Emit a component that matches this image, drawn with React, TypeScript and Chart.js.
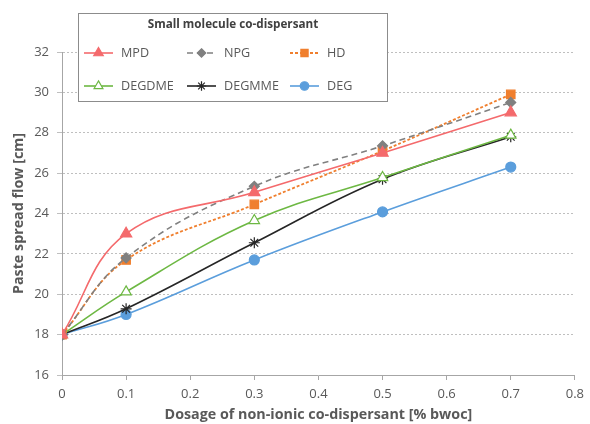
import React, { useEffect, useRef } from "react";
import { Chart, registerables } from "chart.js";

Chart.register(...registerables);

const dosages = [0, 0.1, 0.3, 0.5, 0.7];
const mpd = [18, 23.0, 25.05, 27.0, 29.0];
const npg = [18, 21.8, 25.35, 27.35, 29.5];
const hd = [18, 21.7, 24.45, 27.1, 29.9];
const degdme = [18, 20.12, 23.65, 25.78, 27.88];
const degmme = [18, 19.28, 22.55, 25.7, 27.8];
const deg = [18, 19.0, 21.7, 24.08, 26.3];

const seriesNames = ["MPD", "NPG", "HD", "DEGDME", "DEGMME", "DEG"];
const xTicks = [0, 0.1, 0.2, 0.3, 0.4, 0.5, 0.6, 0.7, 0.8];
const yTicks = [16, 18, 20, 22, 24, 26, 28, 30, 32];
const legendTitle = "Small molecule co-dispersant";
const xTitle = "Dosage of non-ionic co-dispersant [% bwoc]";
const yTitle = "Paste spread flow [cm]";

const FONT = "'Open Sans', 'Noto Sans', sans-serif";

type Style = {
  color: string;
  fill: string;
  dash: number[];
  width: number;
  point: string;
  radius: number;
};

const styles: Style[] = [
  { color: "#F46A6C", fill: "#F46A6C", dash: [], width: 1.6, point: "triangle", radius: 6.5 },
  { color: "#808080", fill: "#808080", dash: [6, 4], width: 1.6, point: "rectRot", radius: 5 },
  { color: "#F07F2E", fill: "#F07F2E", dash: [3, 2], width: 1.8, point: "rect", radius: 6 },
  { color: "#6DB843", fill: "#FFFFFF", dash: [], width: 1.6, point: "triangle", radius: 6 },
  { color: "#262626", fill: "#262626", dash: [], width: 1.6, point: "star", radius: 5.5 },
  { color: "#5B9EDC", fill: "#5B9EDC", dash: [], width: 1.6, point: "circle", radius: 5 },
];

const seriesValues = [mpd, npg, hd, degdme, degmme, deg];

function drawMarker(ctx: CanvasRenderingContext2D, s: Style, x: number, y: number, r: number) {
  ctx.save();
  ctx.setLineDash([]);
  ctx.strokeStyle = s.color;
  ctx.fillStyle = s.fill;
  ctx.lineWidth = 1.2;
  ctx.beginPath();
  if (s.point === "triangle") {
    ctx.moveTo(x, y - r);
    ctx.lineTo(x + r * 0.866, y + r * 0.5);
    ctx.lineTo(x - r * 0.866, y + r * 0.5);
    ctx.closePath();
    ctx.fill();
    ctx.stroke();
  } else if (s.point === "rectRot") {
    ctx.moveTo(x, y - r);
    ctx.lineTo(x + r, y);
    ctx.lineTo(x, y + r);
    ctx.lineTo(x - r, y);
    ctx.closePath();
    ctx.fill();
    ctx.stroke();
  } else if (s.point === "rect") {
    const h = r * 0.707;
    ctx.rect(x - h, y - h, 2 * h, 2 * h);
    ctx.fill();
    ctx.stroke();
  } else if (s.point === "circle") {
    ctx.arc(x, y, r, 0, Math.PI * 2);
    ctx.fill();
    ctx.stroke();
  } else if (s.point === "star") {
    ctx.moveTo(x - r, y);
    ctx.lineTo(x + r, y);
    ctx.moveTo(x, y - r);
    ctx.lineTo(x, y + r);
    const d = r * 0.707;
    ctx.moveTo(x - d, y - d);
    ctx.lineTo(x + d, y + d);
    ctx.moveTo(x - d, y + d);
    ctx.lineTo(x + d, y - d);
    ctx.stroke();
  }
  ctx.restore();
}

const legendPlugin = {
  id: "customLegend",
  afterDraw(chart: any) {
    const ctx: CanvasRenderingContext2D = chart.ctx;
    ctx.save();
    ctx.fillStyle = "#FFFFFF";
    ctx.fillRect(78.5, 13.5, 309, 88);
    ctx.strokeStyle = "#8C8C8C";
    ctx.lineWidth = 1;
    ctx.strokeRect(78.5, 13.5, 309, 88);
    ctx.fillStyle = "#404040";
    ctx.font = `bold 11.7px ${FONT}`;
    ctx.textAlign = "center";
    ctx.textBaseline = "middle";
    ctx.fillText(legendTitle, 233, 25);
    const cols = [84, 187, 290];
    const rows = [53, 86];
    ctx.font = `12.6px ${FONT}`;
    ctx.textAlign = "left";
    for (let i = 0; i < seriesNames.length; i++) {
      const s = styles[i];
      const x0 = cols[i % 3];
      const y = rows[Math.floor(i / 3)];
      ctx.save();
      ctx.strokeStyle = s.color;
      ctx.lineWidth = s.width;
      ctx.setLineDash(s.dash);
      ctx.beginPath();
      ctx.moveTo(x0, y);
      ctx.lineTo(x0 + 29, y);
      ctx.stroke();
      ctx.restore();
      drawMarker(ctx, s, x0 + 14.5, y, s.radius * 0.85);
      ctx.fillStyle = "#595959";
      ctx.fillText(seriesNames[i], x0 + 37, y + 0.5);
    }
    ctx.restore();
  },
};

export default function App() {
  const ref = useRef<HTMLCanvasElement | null>(null);
  useEffect(() => {
    document.body.style.margin = "0";
    const canvas = ref.current;
    if (!canvas) return;
    const datasets = seriesNames.map((name, i) => {
      const s = styles[i];
      return {
        label: name,
        data: dosages.map((x, j) => ({ x, y: seriesValues[i][j] })),
        borderColor: s.color,
        backgroundColor: s.fill,
        borderWidth: s.width,
        borderDash: s.dash,
        pointStyle: s.point,
        pointRadius: s.radius,
        pointBorderWidth: 1.2,
        pointBorderColor: s.color,
        pointBackgroundColor: s.fill,
        tension: 0.4,
        fill: false,
      };
    });
    const chart = new Chart(canvas, {
      type: "line",
      data: { datasets: datasets as any },
      plugins: [legendPlugin],
      options: {
        animation: false,
        responsive: false,
        devicePixelRatio: 1,
        layout: { padding: { top: 52, right: 12, left: 0, bottom: 0 } },
        plugins: { legend: { display: false }, tooltip: { enabled: false } },
        scales: {
          x: {
            type: "linear",
            min: 0,
            max: 0.8,
            afterFit: (s: any) => {
              s.height = 49;
            },
            afterBuildTicks: (s: any) => {
              s.ticks = xTicks.map((v) => ({ value: v }));
            },
            ticks: {
              color: "#595959",
              font: { family: FONT, size: 13 },
              padding: 6,
              callback: (v: any) => String(v),
            },
            grid: {
              drawOnChartArea: false,
              drawTicks: true,
              tickLength: 5,
              color: "#A6A6A6",
            },
            border: { color: "#A6A6A6", width: 1 },
            title: {
              display: true,
              text: xTitle,
              color: "#595959",
              font: { family: FONT, size: 14.3, weight: "bold" },
              padding: { top: 2, bottom: 0 },
            },
          },
          y: {
            min: 16,
            max: 32,
            afterFit: (s: any) => {
              s.width = 62;
            },
            afterBuildTicks: (s: any) => {
              s.ticks = yTicks.map((v) => ({ value: v }));
            },
            ticks: {
              color: "#595959",
              font: { family: FONT, size: 13 },
              padding: 8,
            },
            grid: {
              color: "#BFBFBF",
              tickLength: 5,
              lineWidth: 1,
            },
            border: { color: "#A6A6A6", width: 1, dash: [2, 2] },
            title: {
              display: true,
              text: yTitle,
              color: "#595959",
              font: { family: FONT, size: 14.3, weight: "bold" },
              padding: { top: 10, bottom: 0 },
            },
          },
        },
      } as any,
    });
    return () => chart.destroy();
  }, []);
  return (
    <div style={{ position: "fixed", left: 0, top: 0, width: 590, height: 424 }}>
      <canvas ref={ref} width={590} height={424} style={{ width: 590, height: 424 }} />
    </div>
  );
}
